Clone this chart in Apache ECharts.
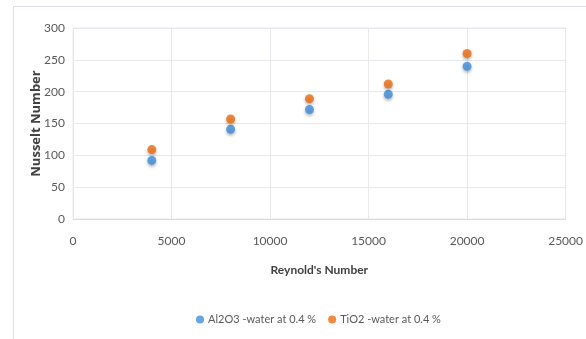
<!DOCTYPE html>
<html><head><meta charset="utf-8">
<script src="https://cdn.jsdelivr.net/npm/echarts@6/dist/echarts.min.js"></script>
<style>html,body{margin:0;padding:0;background:#fff;}#c{width:586px;height:339px;}
#frame{position:absolute;left:13px;top:6px;width:600px;height:400px;border:1px solid #dde0e6;box-sizing:border-box;pointer-events:none;}</style>
</head><body><div id="c"></div><div id="frame"></div>
<script>
const reynolds = [4000, 8000, 12000, 16000, 20000];
const al2o3 = [92, 141, 172, 196, 240];
const tio2 = [109, 157, 189, 212, 260];
const seriesNames = ['Al2O3 -water at 0.4 %', 'TiO2 -water at 0.4 %'];
const xTitle = "Reynold's Number";
const yTitle = 'Nusselt Number';

const font = 'Lato, "Liberation Sans Narrow", sans-serif';
const chart = echarts.init(document.getElementById('c'));
const mk = (name, ys, color) => ({
  name, type: 'scatter', symbol: 'circle', symbolSize: 9,
  data: reynolds.map((x, i) => [x, ys[i]]),
  itemStyle: { color, shadowColor: 'rgba(0,0,0,0.35)', shadowBlur: 3, shadowOffsetY: 2 }
});
chart.setOption({
  animation: false,
  grid: { left: 73, right: 20, top: 28, bottom: 120, show: true, borderColor: '#e6e8ee', borderWidth: 1 },
  xAxis: {
    type: 'value', min: 0, max: 25000, interval: 5000,
    name: xTitle, nameLocation: 'middle', nameGap: 45,
    nameTextStyle: { fontFamily: font, fontWeight: 'bold', fontSize: 12, color: '#404040' },
    axisLine: { show: true, lineStyle: { color: '#d9dce3' } }, axisTick: { show: false },
    axisLabel: { fontFamily: font, fontSize: 12, color: '#595959', margin: 16, formatter: v => String(v) },
    splitLine: { show: true, lineStyle: { color: '#e6e8ee' } }
  },
  yAxis: {
    type: 'value', min: 0, max: 300, interval: 50,
    name: yTitle, nameLocation: 'middle', nameGap: 30, nameRotate: 90, nameMoveOverlap: false,
    nameTextStyle: { fontFamily: '"Open Sans", sans-serif', fontWeight: 'bold', fontSize: 13, color: '#404040' },
    axisLine: { show: false }, axisTick: { show: false },
    axisLabel: { fontFamily: font, fontSize: 12, color: '#595959', margin: 8 },
    splitLine: { show: true, lineStyle: { color: '#e6e8ee' } }
  },
  legend: {
    bottom: 9, left: 191, itemWidth: 8, itemHeight: 8, itemGap: 12, icon: 'circle',
    textStyle: { fontFamily: font, fontSize: 11, color: '#595959', padding: [0, 0, 0, -1] },
    data: seriesNames
  },
  series: [mk(seriesNames[0], al2o3, '#3f8fdc'), mk(seriesNames[1], tio2, '#ee6c12')]
});
</script></body></html>
